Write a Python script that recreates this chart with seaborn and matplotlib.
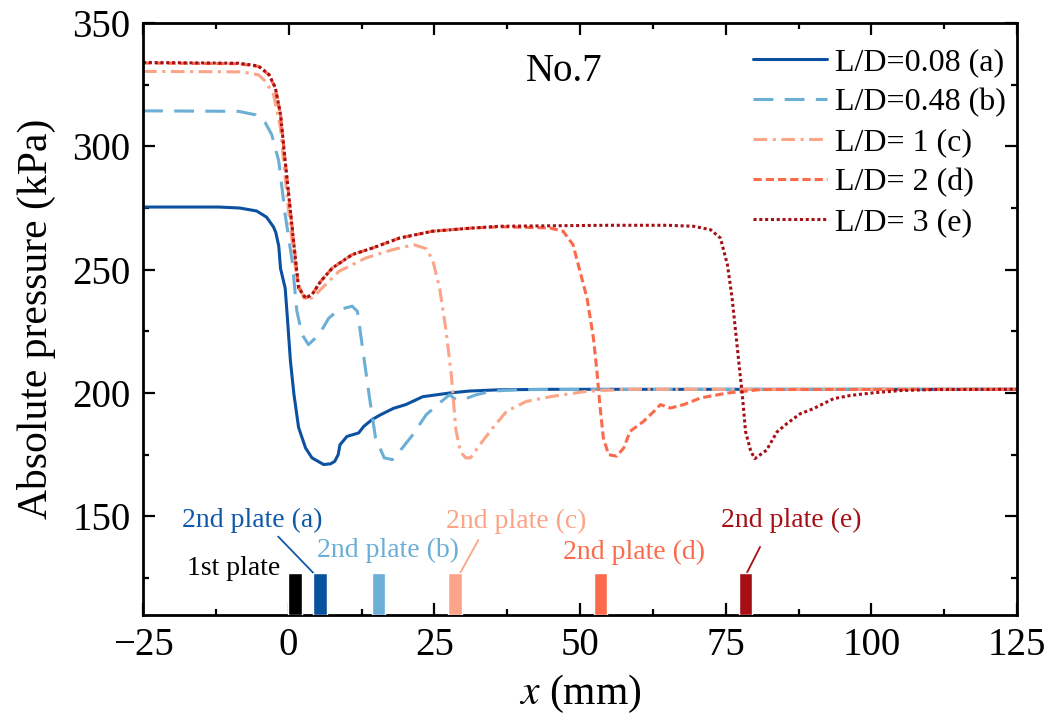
import numpy as np
import pandas as pd
import matplotlib
matplotlib.use("Agg")
import matplotlib.pyplot as plt
from matplotlib.ticker import MultipleLocator
import seaborn as sns

# ---------------- data ----------------
labels = ["L/D=0.08 (a)", "L/D=0.48 (b)", "L/D= 1 (c)", "L/D= 2 (d)", "L/D= 3 (e)"]
colors = ["#0b51a0", "#6baed6", "#fca487", "#fb6a4a", "#a50f15"]

xa = [-25, -12, -8.4, -5.5, -3.8, -2.6, -2.2, -1.7, -1.4, -0.6, -0.3, 0.3, 0.9, 1.7, 2.9,
      4.0, 6.0, 7.2, 7.9, 8.5, 8.8, 10.0, 12.0, 12.9, 14.3, 15.7, 18.0, 20.1, 23.0, 27.6,
      31.0, 36.0, 45.0, 125]
ya = [275.4, 275.4, 275.0, 273.8, 271.3, 267.3, 265, 259.5, 250.5, 242.5, 233, 213, 199.5,
      186, 177.7, 173.7, 171, 171.3, 172.3, 175, 179, 182.4, 183.8, 186.5, 189.2, 191.1,
      193.8, 195.3, 198.5, 200, 200.8, 201.3, 201.5, 201.5]

xb = [-25, -8.6, -5.7, -4.0, -2.9, -1.7, -0.6, 0.6, 1.4, 2.3, 3.4, 5.2, 6.9, 8.6, 10.9,
      11.8, 12.6, 13.8, 14.9, 16.4, 17.8, 19.5, 21.3, 23.6, 25.9, 27.6, 28.7, 30.5, 32.2,
      35, 40, 125]
yb = [314.4, 314.2, 312.8, 309.5, 304.7, 294, 272.3, 253.4, 233.3, 223.7, 219.6, 223.7,
      230.4, 233.8, 235.2, 233.1, 219.6, 199.3, 181.8, 173.7, 173, 177.7, 183.1, 191.2,
      196, 199.3, 197.3, 197.8, 199.3, 200.8, 201.4, 201.5]

xc = [-25, -8, -5.2, -4.0, -2.6, -1.4, -0.6, 0.3, 1.4, 2.6, 4.0, 6.3, 8.6, 13.2, 17.8,
      21.5, 23.6, 24.7, 25.9, 27.0, 27.9, 28.7, 29.5, 30.4, 31.2, 32.8, 35.0, 37.4, 40.8,
      45.4, 51.2, 58, 125]
yc = [330.4, 330.2, 329, 326.4, 321, 307.4, 287.2, 266.9, 246.6, 238.5, 238.5, 243.9,
      249.3, 254.7, 258.1, 260.1, 258.5, 254, 242.6, 225.5, 207.5, 185, 176, 173.7, 173.7,
      179, 185.8, 192.6, 196.6, 198.7, 200.7, 201.5, 201.5]

xd = [-25, -8.6, -5.2, -3.4, -2.3, -1.4, -0.6, 0.3, 1.2, 1.7, 2.9, 4.0, 5.5, 7.5, 10.9,
      14.4, 19, 24.7, 31.6, 36.2, 44.8, 47.1, 48.8, 50, 51.2, 52.3, 52.9, 53.4, 54, 54.9,
      56.3, 57.5, 58.6, 60.9, 62.7, 63.8, 65.5, 67.8, 70.7, 75.3, 81, 125]
yd = [333.8, 333.5, 332.4, 329, 323.7, 312.8, 293.9, 273.7, 253.4, 242.6, 238.5, 239.9,
      245.3, 250.7, 256.1, 258.8, 262.8, 265.6, 266.9, 267.4, 266.9, 265.6, 260.1, 249.3,
      238.5, 222.3, 208.8, 195.3, 181.8, 175, 174.4, 177.7, 184.5, 188.5, 192.6, 195.3,
      193.9, 195.3, 198, 200, 201.4, 201.5]

xe = [-25, -8.6, -5.2, -3.4, -2.3, -1.4, -0.6, 0.3, 1.2, 1.7, 2.9, 4.0, 5.5, 7.5, 10.9,
      14.4, 19, 24.7, 31.6, 36.2, 45, 55, 65, 69.5, 72.4, 74.1, 75.3, 76.1, 76.7, 77.3,
      77.9, 78.4, 79.3, 80.0, 82.0, 83.8, 85.5, 87.8, 90.0, 93.5, 96.4, 100.4, 105, 110.7, 125]
ye = [334.0, 333.7, 332.6, 329.2, 323.9, 313, 294, 273.7, 253.4, 242.6, 238.5, 239.9,
      245.3, 250.7, 256.1, 258.8, 262.8, 265.6, 266.9, 267.6, 267.8, 268, 268, 267.6,
      266.2, 262.8, 252, 238.5, 225, 211.5, 198, 184.5, 176.4, 173.4, 176.8, 184.2, 187.6,
      191.6, 193.6, 197.7, 199, 200.1, 201, 201.4, 201.5]

series_x = [xa, xb, xc, xd, xe]
series_y = [ya, yb, yc, yd, ye]

# plates (centre position, mm)
plate_pos = [1.1, 5.4, 15.4, 28.55, 53.5, 78.35]
plate_colors = ["#000000", "#08519c", "#6baed6", "#fca487", "#fb6a4a", "#a50f15"]
plate_bottom = 110
plate_top = 127

# plate labels: text, x, y, colour
plate_texts = ["1st plate", "2nd plate (a)", "2nd plate (b)", "2nd plate (c)",
               "2nd plate (d)", "2nd plate (e)"]
plate_text_x = [-1.5, -6.3, 17.0, 39.0, 59.2, 86.3]
plate_text_y = [129.0, 148.4, 136.0, 148.0, 135.5, 148.3]
plate_text_colors = ["#000000", "#1059a8", "#6baed6", "#fca487", "#fb6a4a", "#a50f15"]
# connector lines (x0, y0) -> (x1, y1)
conn_x0 = [-1.8, 32.55, 80.9]
conn_y0 = [141.8, 140.4, 137.6]
conn_x1 = [4.3, 29.4, 78.6]
conn_y1 = [126.9, 126.9, 126.9]
conn_colors = ["#1059a8", "#fca487", "#a50f15"]

# ---------------- style ----------------
sns.set_theme(style="ticks")
plt.rcParams["font.family"] = ["Liberation Serif", "DejaVu Serif"]
plt.rcParams["mathtext.fontset"] = "stix"
plt.rcParams["axes.unicode_minus"] = True
plt.rcParams["text.color"] = "black"
plt.rcParams["axes.labelcolor"] = "black"
plt.rcParams["xtick.color"] = "black"
plt.rcParams["ytick.color"] = "black"

fig = plt.figure(figsize=(10.5, 7.22), dpi=100)
ax = fig.add_axes([0.1362, 0.1482, 0.8324, 0.8199])

dash_styles = ["-", (0, (6.5, 3.7)), (0, (4.5, 1.8, 1.0, 1.8)), (0, (2.7, 1.3)), (0, (1.0, 0.9))]

for xs, ys, lab, col, ls in zip(series_x, series_y, labels, colors, dash_styles):
    df = pd.DataFrame({"x": xs, "y": ys})
    sns.lineplot(data=df, x="x", y="y", ax=ax, color=col, linewidth=2.2,
                 linestyle=ls, label=lab, estimator=None, sort=False)

ax.bar(plate_pos, [plate_top - plate_bottom] * len(plate_pos), bottom=plate_bottom,
       width=2.3, color=plate_colors, zorder=3)

for t, x, y, c in zip(plate_texts, plate_text_x, plate_text_y, plate_text_colors):
    ha = "right" if t == "1st plate" else "center"
    ax.text(x, y, t, color=c, fontsize=20, ha=ha, va="center")

for x0, y0, x1, y1, c in zip(conn_x0, conn_y0, conn_x1, conn_y1, conn_colors):
    ax.plot([x0, x1], [y0, y1], color=c, linewidth=1.3)

ax.text(47.2, 330.4, "No.7", fontsize=28, ha="center", va="center", color="black")

ax.set_xlim(-25, 125)
ax.set_ylim(110, 350)
ax.xaxis.set_major_locator(MultipleLocator(25))
ax.xaxis.set_minor_locator(MultipleLocator(12.5))
ax.yaxis.set_major_locator(MultipleLocator(50))
ax.yaxis.set_minor_locator(MultipleLocator(25))
ax.set_yticks([150, 200, 250, 300, 350])
ax.tick_params(which="both", direction="in", top=True, right=True, width=1.6, labelsize=28,
               pad=9, color="black", labelcolor="black")
ax.tick_params(which="major", length=8.5)
ax.tick_params(which="minor", length=4.5)
for sp in ax.spines.values():
    sp.set_linewidth(2.0)
    sp.set_color("black")

ax.set_xlabel("$x$ (mm)", fontsize=30, labelpad=6, color="black")
ax.set_ylabel("Absolute pressure (kPa)", fontsize=30, labelpad=12, color="black")

leg = ax.legend(loc="upper left", bbox_to_anchor=(0.698, 0.958), frameon=False,
                fontsize=23, handlelength=2.3, handletextpad=0.25, labelspacing=0.33,
                borderpad=0, borderaxespad=0)
for txt in leg.get_texts():
    txt.set_color("black")

fig.savefig("out.png", dpi=100)
